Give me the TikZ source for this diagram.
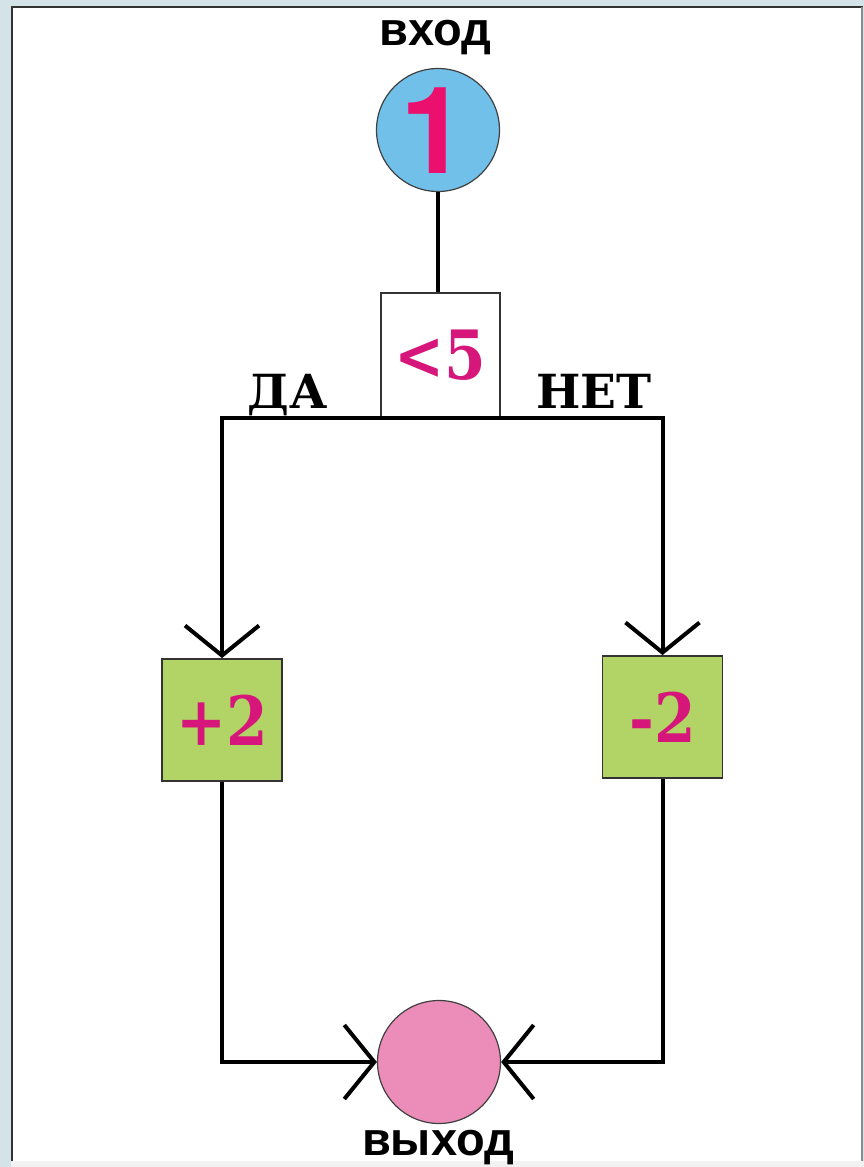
\documentclass[tikz,border=0pt]{standalone}
\usepackage{fontspec}
\usetikzlibrary{arrows.meta}
\newfontfamily\sansb{Liberation Sans}
\newfontfamily\heros{TeX Gyre Heros}
\newfontfamily\serifb{DejaVu Serif}
\newfontfamily\serifn[FakeStretch=0.88]{DejaVu Serif}
\definecolor{bgc}{RGB}{211,227,232}
\definecolor{skyc}{RGB}{112,192,234}
\definecolor{pinkc}{RGB}{236,140,184}
\definecolor{greenc}{RGB}{178,212,102}
\definecolor{magc}{RGB}{236,16,110}
\definecolor{magd}{RGB}{214,22,122}
\tikzset{
  conn/.style={line width=4pt, draw=black},
  tipv/.style={-{Straight Barb[length=30pt,width=74pt]}},
  roundnode/.style={circle, draw=black!75, line width=1.2pt, minimum size=123pt, inner sep=0pt},
  greenbox/.style={rectangle, draw=black!80, fill=greenc, line width=1.8pt, minimum width=120pt, minimum height=122pt, inner sep=0pt, text=magd, font=\serifn\bfseries\fontsize{68}{68}\selectfont},
  condbox/.style={rectangle, draw=black!80, fill=white, line width=1.5pt, minimum width=119pt, minimum height=124pt, inner sep=0pt, text=magd, font=\serifn\bfseries\fontsize{68}{68}\selectfont},
  branchlbl/.style={anchor=base, inner sep=0pt, font=\serifb\bfseries\fontsize{47}{47}\selectfont},
  termlbl/.style={anchor=base, inner sep=0pt, font=\sansb\bfseries\fontsize{47}{47}\selectfont}
}
\begin{document}
\begin{tikzpicture}[x=1pt,y=-1pt]
\useasboundingbox (0,0) rectangle (864,1167);
\fill[bgc] (0,0) rectangle (864,1167);
\fill[white] (11,6) rectangle (863,1161);
\fill[black!5] (11,1161) rectangle (864,1167);
\draw[black!80, line width=2pt] (12,1161) -- (12,7) -- (863,7);
\draw[black!45, line width=1.5pt] (862,7) -- (862,1161);

\node[roundnode, fill=skyc] (in) at (438,130) {};
\node[text=magc, inner sep=0pt] (one) at (434,131) {\heros\bfseries\fontsize{121}{121}\selectfont 1};
\node[condbox] (cond) at (440.5,355) {<5};
\node[greenbox] (plus) at (222,720) {+2};
\node[greenbox] (minus) at (662.5,717) {-2};
\node[roundnode, fill=pinkc] (out) at (439,1062) {};

\node[termlbl] (vhod) at (435,45) {вход};
\node[termlbl] (vyhod) at (438,1155) {выход};
\node[branchlbl] (da) at (288,408) {ДА};
\node[branchlbl] (net) at (594,408) {НЕТ};

\draw[conn] (in.south) -- (in.south |- cond.north);
\draw[conn, tipv] (cond.south) -| (plus.north);
\draw[conn, tipv] (cond.south) -| (minus.north);
\draw[conn, tipv] (plus.south) |- (out.west);
\draw[conn, tipv] (minus.south) |- (out.east);
\end{tikzpicture}
\end{document}
